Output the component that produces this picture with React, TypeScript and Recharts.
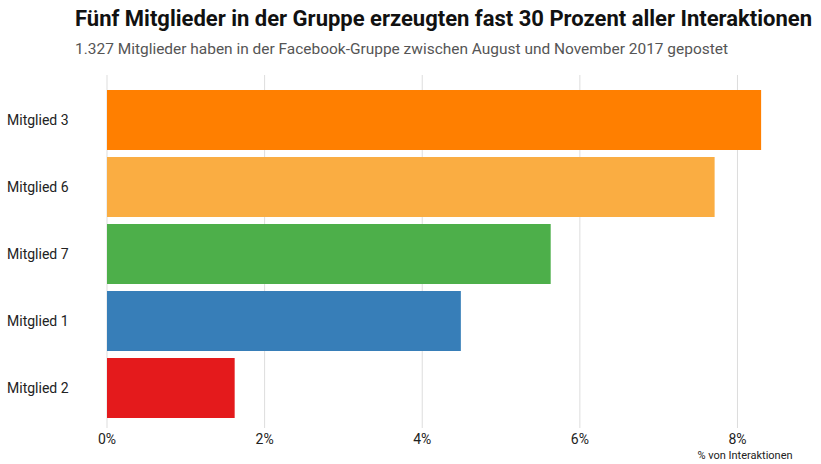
import { BarChart, Bar, XAxis, YAxis, CartesianGrid, Cell } from "recharts";

const members = ["Mitglied 3", "Mitglied 6", "Mitglied 7", "Mitglied 1", "Mitglied 2"];
const shares = [8.3, 7.71, 5.63, 4.49, 1.62];
const colors = ["#FF7F00", "#FAAD42", "#4DAF4A", "#377EB8", "#E41A1C"];
const xTicks = [0, 2, 4, 6, 8];

const data = members.map((m, i) => ({ name: m, value: shares[i] }));

const FONT = "Roboto, 'Open Sans', sans-serif";

const MemberTick = (props: any) => {
  const { y, payload } = props;
  return (
    <text x={7} y={y} dy={5} textAnchor="start" fontSize={14} fill="#222" fontFamily={FONT}>
      {payload.value}
    </text>
  );
};

export default function App() {
  return (
    <div style={{ position: "absolute", left: 0, top: 0, width: 821, height: 464, background: "#fff" }}>
      <svg width={821} height={70} style={{ position: "absolute", left: 0, top: 0 }}>
        <text
          x={75}
          y={26}
          fontSize={22}
          fontWeight={700}
          fill="#111"
          fontFamily={FONT}
          textLength={737}
          lengthAdjust="spacingAndGlyphs"
        >
          Fünf Mitglieder in der Gruppe erzeugten fast 30 Prozent aller Interaktionen
        </text>
        <text
          x={75}
          y={54}
          fontSize={15}
          fill="#555"
          fontFamily={FONT}
          textLength={653}
          lengthAdjust="spacingAndGlyphs"
        >
          1.327 Mitglieder haben in der Facebook-Gruppe zwischen August und November 2017 gepostet
        </text>
      </svg>
      <BarChart
        width={821}
        height={464}
        data={data}
        layout="vertical"
        margin={{ top: 75, right: 52, bottom: 6, left: 0 }}
      >
        <CartesianGrid horizontal={false} stroke="#dddddd" syncWithTicks />
        <XAxis
          type="number"
          domain={[0, 8.4]}
          ticks={xTicks}
          allowDataOverflow
          axisLine={false}
          tickLine={false}
          height={30}
          tickFormatter={(v: number) => `${v}%`}
          tick={{ fontSize: 14, fill: "#222", fontFamily: FONT }}
          tickMargin={0}
        />
        <YAxis
          type="category"
          dataKey="name"
          width={107}
          axisLine={false}
          tickLine={false}
          tick={<MemberTick />}
          padding={{ top: 11, bottom: 7 }}
        />
        <Bar dataKey="value" barSize={60} isAnimationActive={false}>
          {data.map((d, i) => (
            <Cell key={d.name} fill={colors[i]} />
          ))}
        </Bar>
      </BarChart>
      <div
        style={{
          position: "absolute",
          left: 695,
          top: 449,
          width: 100,
          textAlign: "center",
          fontSize: 11,
          color: "#222",
          fontFamily: FONT,
          whiteSpace: "nowrap",
        }}
      >
        % von Interaktionen
      </div>
    </div>
  );
}
